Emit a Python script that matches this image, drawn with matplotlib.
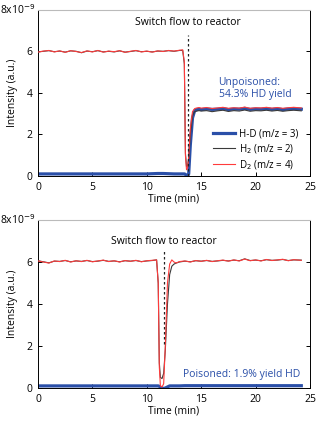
import matplotlib
matplotlib.use("Agg")
import matplotlib.pyplot as plt

# ---- top panel (unpoisoned), intensity in units of 1e-9
t_top = [0, 0.5, 1, 1.5, 2, 2.5, 3, 3.5, 4, 4.5, 5, 5.5, 6, 6.5, 7, 7.5, 8, 8.5, 9,
         9.5, 10, 10.5, 11, 11.5, 12, 12.5, 13.0,
         13.3, 13.45, 13.55, 13.65, 13.75, 13.85, 14.0, 14.2, 14.4, 14.6, 14.8,
         15, 15.5, 16, 16.5, 17, 17.5, 18, 18.5, 19, 19.5, 20, 20.5, 21, 21.5,
         22, 22.5, 23, 23.5, 24.2]
d2_top = [5.97, 6.02, 6.05, 5.98, 6.03, 5.96, 6.04, 6.0, 5.95, 6.03, 5.98, 6.05, 5.97,
          6.02, 5.99, 6.04, 5.96, 6.01, 6.05, 5.98, 6.02, 5.97, 6.03, 6.0, 6.05, 6.02, 6.06,
          6.08, 5.5, 1.0, 0.3, 0.4, 0.9, 2.3, 3.1, 3.25, 3.28, 3.3,
          3.27, 3.3, 3.25, 3.28, 3.31, 3.26, 3.29, 3.27, 3.32, 3.26, 3.29, 3.28, 3.31,
          3.27, 3.3, 3.26, 3.29, 3.31, 3.28]
h2_top = [5.98, 6.01, 6.04, 5.99, 6.02, 5.97, 6.03, 6.01, 5.94, 6.02, 5.99, 6.04, 5.98,
          6.01, 5.98, 6.03, 5.97, 6.0, 6.04, 5.99, 6.01, 5.98, 6.02, 6.01, 6.04, 6.01, 6.05,
          6.05, 5.4, 1.1, 0.45, 0.5, 0.8, 2.0, 2.9, 3.1, 3.13, 3.15,
          3.13, 3.15, 3.1, 3.14, 3.17, 3.11, 3.15, 3.13, 3.18, 3.12, 3.15, 3.14, 3.17,
          3.13, 3.16, 3.12, 3.15, 3.17, 3.14]
hd_top = [0.1, 0.1, 0.1, 0.1, 0.1, 0.1, 0.1, 0.1, 0.1, 0.1, 0.1, 0.1, 0.1,
          0.1, 0.1, 0.1, 0.1, 0.1, 0.1, 0.1, 0.1, 0.11, 0.12, 0.12, 0.11, 0.1, 0.1,
          0.1, 0.1, 0.08, 0.02, 0.0, 0.1, 1.5, 2.8, 3.15, 3.2, 3.22,
          3.2, 3.23, 3.21, 3.22, 3.25, 3.2, 3.23, 3.22, 3.26, 3.21, 3.23, 3.22, 3.25,
          3.21, 3.24, 3.2, 3.23, 3.25, 3.22]

# ---- bottom panel (poisoned)
t_bot = [0, 0.5, 1, 1.5, 2, 2.5, 3, 3.5, 4, 4.5, 5, 5.5, 6, 6.5, 7, 7.5, 8, 8.5, 9,
         9.5, 10, 10.5,
         10.9, 11.05, 11.15, 11.25, 11.4, 11.55, 11.7, 11.9, 12.1, 12.3, 12.5, 12.7,
         13, 13.5, 14, 14.5, 15, 15.5, 16, 16.5, 17, 17.5, 18, 18.5, 19, 19.5, 20,
         20.5, 21, 21.5, 22, 22.5, 23, 23.5, 24.2]
d2_bot = [6.05, 6.0, 5.95, 6.05, 6.02, 6.08, 6.0, 6.06, 6.02, 6.08, 6.01, 6.05, 6.09,
          6.02, 6.06, 6.0, 6.07, 6.03, 6.08, 6.01, 6.06, 6.08,
          6.1, 5.0, 1.0, 0.1, 0.05, 0.2, 2.0, 5.0, 5.9, 6.1, 6.0, 5.95,
          6.02, 6.05, 6.0, 6.07, 6.03, 6.08, 6.02, 6.06, 6.09, 6.04, 6.1, 6.05, 6.14,
          6.06, 6.1, 6.05, 6.12, 6.07, 6.1, 6.13, 6.06, 6.11, 6.08]
h2_bot = [6.06, 6.01, 5.96, 6.04, 6.03, 6.07, 6.01, 6.05, 6.03, 6.07, 6.02, 6.04, 6.08,
          6.03, 6.05, 6.01, 6.06, 6.04, 6.07, 6.02, 6.05, 6.07,
          6.1, 5.0, 1.2, 0.5, 0.45, 0.7, 1.8, 4.0, 5.4, 5.8, 5.9, 5.95,
          6.0, 6.04, 6.01, 6.06, 6.04, 6.07, 6.03, 6.05, 6.08, 6.05, 6.09, 6.06, 6.15,
          6.07, 6.09, 6.06, 6.11, 6.08, 6.09, 6.12, 6.07, 6.1, 6.09]
hd_bot = [0.1, 0.1, 0.1, 0.1, 0.1, 0.1, 0.1, 0.1, 0.1, 0.1, 0.1, 0.1, 0.1,
          0.1, 0.1, 0.1, 0.1, 0.1, 0.1, 0.1, 0.1, 0.1,
          0.1, 0.1, 0.08, 0.04, 0.0, -0.02, 0.0, 0.05, 0.1, 0.1, 0.1, 0.1,
          0.1, 0.11, 0.11, 0.11, 0.11, 0.11, 0.11, 0.11, 0.11, 0.11, 0.11, 0.11, 0.11,
          0.11, 0.11, 0.11, 0.11, 0.11, 0.11, 0.11, 0.11, 0.11, 0.11]

switch_top = 13.8
switch_bot = 11.55
xticks = [0, 5, 10, 15, 20, 25]
yticks = [0, 2, 4, 6]

blue = "#2a4fa8"
red = "#ff3b3b"
dark = "#3a3a3a"
fs = 7.5

plt.rcParams["font.family"] = ["Open Sans", "DejaVu Sans"]
fig = plt.figure(figsize=(3.17, 4.23), dpi=100)
ax1 = fig.add_axes([38 / 317, 1 - 176 / 423, 272 / 317, 166 / 423])
ax2 = fig.add_axes([38 / 317, 1 - 388 / 423, 272 / 317, 168 / 423])

panels = [
    (ax1, t_top, hd_top, h2_top, d2_top, switch_top, 6.8, 0.0),
    (ax2, t_bot, hd_bot, h2_bot, d2_bot, switch_bot, 6.5, 2.1),
]
for ax, t, hd, h2, d2, sw, ytop, ybot in panels:
    ax.plot(t, hd, color=blue, lw=2.3, label="H-D (m/z = 3)", zorder=2)
    ax.plot(t, h2, color=dark, lw=0.8, label="H$_2$ (m/z = 2)", zorder=3)
    ax.plot(t, d2, color=red, lw=0.8, label="D$_2$ (m/z = 4)", zorder=4)
    ax.plot([sw, sw], [ybot, ytop], color="#222222", lw=0.9, ls=(0, (2, 2)), zorder=5)
    ax.set_xlim(0, 25)
    ax.set_ylim(0, 8)
    ax.set_xticks(xticks)
    ax.set_yticks(yticks)
    ax.tick_params(direction="in", length=3, labelsize=fs, top=False, right=True,
                   pad=4, width=0.7)
    ax.spines["top"].set_color("#bbbbbb")
    ax.spines["top"].set_linestyle((0, (1, 1)))
    for s in ["left", "right", "bottom"]:
        ax.spines[s].set_linewidth(0.7)
    ax.set_xlabel("Time (min)", fontsize=fs, labelpad=1)
    ax.set_ylabel("Intensity (a.u.)", fontsize=fs, labelpad=6)
    ax.text(-0.01, 1.0, "8x10$^{-9}$", transform=ax.transAxes, ha="right",
            va="center", fontsize=fs)

ax1.text(13.8, 7.4, "Switch flow to reactor", ha="center", va="center", fontsize=fs)
ax1.text(16.6, 4.2, "Unpoisoned:\n54.3% HD yield", color=blue, ha="left",
         va="center", fontsize=fs, linespacing=1.1)
ax1.legend(loc="lower right", bbox_to_anchor=(0.975, 0.0), fontsize=fs - 0.5,
           frameon=False, handlelength=2.2, handletextpad=0.5, labelspacing=0.25,
           borderaxespad=0.05)

ax2.text(11.55, 7.0, "Switch flow to reactor", ha="center", va="center", fontsize=fs)
ax2.text(13.3, 0.62, "Poisoned: 1.9% yield HD", color=blue, ha="left",
         va="center", fontsize=fs)

fig.savefig("out.png", dpi=100)
